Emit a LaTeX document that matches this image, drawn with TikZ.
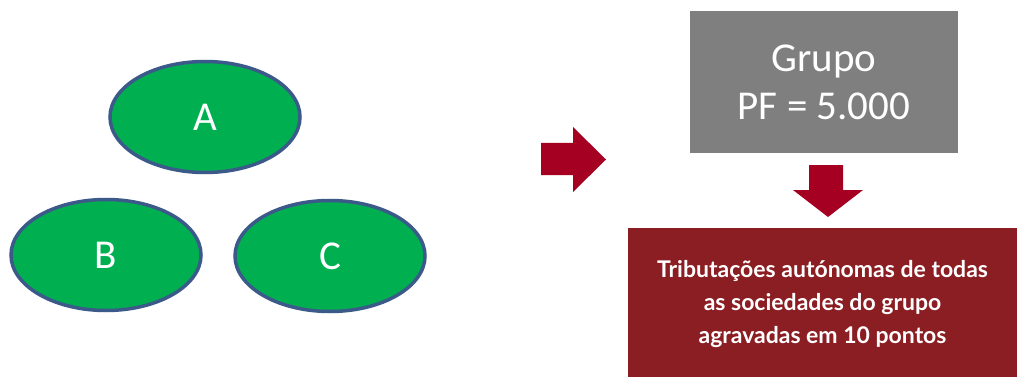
\documentclass[tikz,border=0pt]{standalone}
\usepackage{fontspec}
\setmainfont{Carlito}
\newfontfamily\notafont{Lato}
\usetikzlibrary{shapes.geometric}
\definecolor{verde}{HTML}{00B050}
\definecolor{contorno}{HTML}{3B5A8A}
\definecolor{cinza}{HTML}{7F7F7F}
\definecolor{seta}{HTML}{A50021}
\definecolor{bordo}{HTML}{8B1E23}
\begin{document}
\begin{tikzpicture}
			[
				x                       = 1pt,
				y                       = -1pt,
				sociedade/.style        = {ellipse, draw=contorno, line width=3.5pt, fill=verde,
				                           minimum width=190pt, minimum height=111pt,
				                           text=white, font=\fontsize{41}{48}\selectfont},
				setafill/.style         = {fill=seta},
				align					= center
			]
			\useasboundingbox (0,0) rectangle (1017,377);
			% sociedades
			\node [sociedade] (A) at (205,117) {A};
			\node [sociedade] (B) at (106,255) {B};
			\node [sociedade] (C) at (330,256) {C};
			% grupo
			\node [fill=cinza, minimum width=268pt, minimum height=142pt, text=white,
				   font=\fontsize{41}{48}\selectfont] (grupo) at (824,82) {Grupo\\PF = 5.000};
			\node [fill=bordo, minimum width=389pt, minimum height=152pt, text=white,
				   font=\notafont\bfseries\fontsize{23}{33}\selectfont] (nota) at (822.5,304)
				  {Tributações autónomas de todas\\as sociedades do grupo\\agravadas em 10 pontos};
			% setas
			\fill [setafill] (541,143) -- (573,143) -- (573,127) -- (606,159.5)
				-- (573,192) -- (573,175) -- (541,175) -- cycle;
			\fill [setafill] (809,165) -- (843,165) -- (843,190) -- (863,190)
				-- (828,217) -- (793,190) -- (809,190) -- cycle;
\end{tikzpicture}
\end{document}
